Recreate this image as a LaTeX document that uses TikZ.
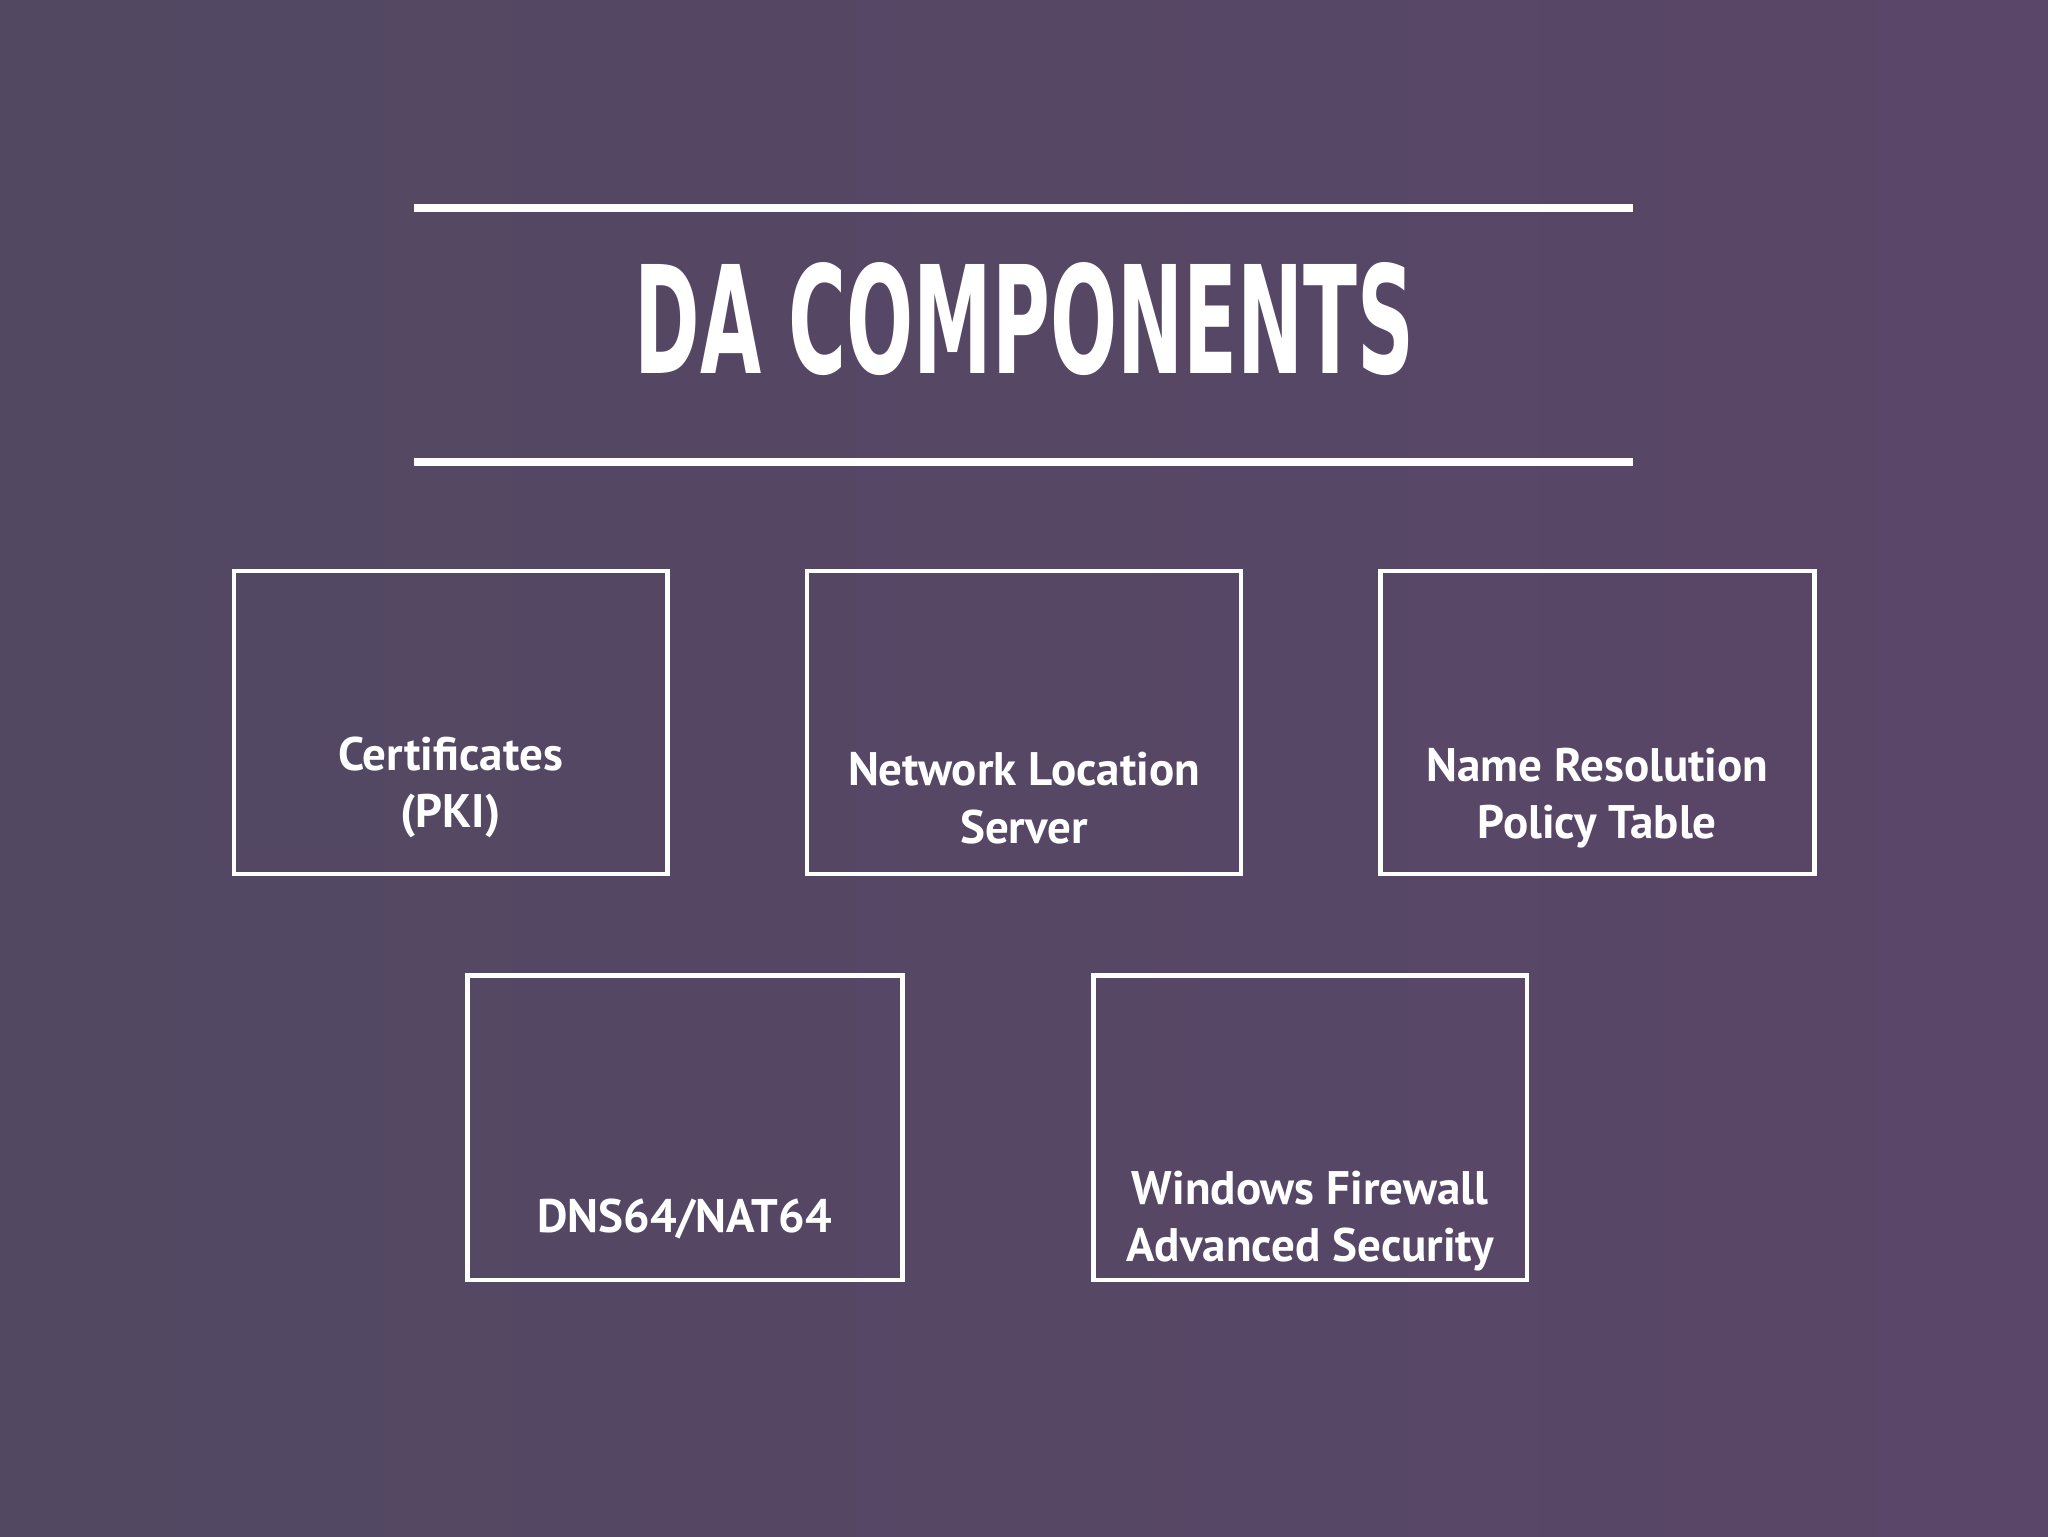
\documentclass[tikz,border=0pt]{standalone}
\usepackage{fontspec}
\setmainfont{PT Sans}
\newfontfamily\titlefont{DejaVu Sans Condensed}
\definecolor{bgA}{RGB}{82,72,98}
\definecolor{bgB}{RGB}{90,70,104}
\begin{document}
\begin{tikzpicture}[x=1pt,y=-1pt,
  comp/.style={draw=white,line width=3.5pt},
  lbl/.style={text=white,align=center,font=\fontsize{36}{44}\selectfont\bfseries},
  rule/.style={draw=white,line width=6pt}]
\shade[left color=bgA,right color=bgB] (0,0) rectangle (1568,1176);
\useasboundingbox (0,0) rectangle (1568,1176);
\coordinate (l1a) at (317,159); \coordinate (l1b) at (1250,159);
\coordinate (l2a) at (317,354); \coordinate (l2b) at (1250,354);
\draw[rule] (l1a) -- (l1b);
\draw[rule] (l2a) -- (l2b);
\node[text=white,inner sep=0] (title) at (784.5,244) {\resizebox{597pt}{85pt}{\titlefont\bfseries DA COMPONENTS}};
\draw[comp] (179,437) rectangle (511,669);
\draw[comp] (618,437) rectangle (950,669);
\draw[comp] (1057,437) rectangle (1389,669);
\draw[comp] (358,747) rectangle (691,980);
\draw[comp] (837,747) rectangle (1169,980);
\node[lbl] (t1) at (345,603) {Certificates\\(PKI)};
\node[lbl] (t2) at (784,611) {Network Location\\Server};
\node[lbl] (t3) at (1223,611) {Name Resolution\\Policy Table};
\node[lbl] (t4) at (524,933) {DNS64/NAT64};
\node[lbl] (t5) at (1003,935) {Windows Firewall\\Advanced Security};
\end{tikzpicture}
\end{document}
